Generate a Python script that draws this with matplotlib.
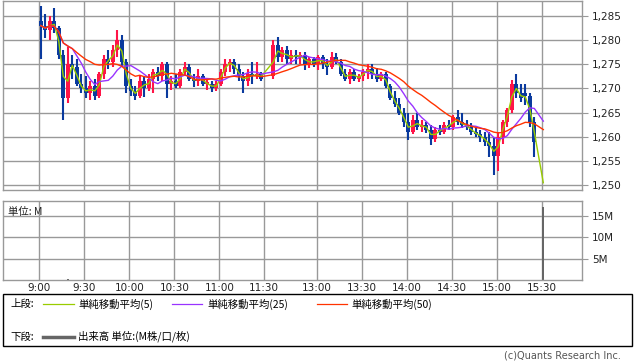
import numpy as np
import pandas as pd
import matplotlib
matplotlib.use('Agg')
import matplotlib.pyplot as plt
from matplotlib.lines import Line2D
from matplotlib.patches import Rectangle

# minutes on the chart axis (9:00 = 0, lunch break squeezed, 12:30 = 155)
t_min = np.r_[np.arange(0, 150, 3), np.arange(155, 330, 3), 335]

opens = [1284, 1283, 1282, 1284, 1282.5, 1277, 1268, 1275, 1274.5, 1271,
         1270, 1269, 1270.5, 1268.5, 1273, 1276, 1275.5, 1278, 1280, 1275.5,
         1270.5, 1269.5, 1268.5, 1271.5, 1270, 1272, 1273.5, 1272.5, 1275, 1271,
         1271.5, 1270.5, 1273.5, 1274.5, 1272, 1271.5, 1272.5, 1271, 1271, 1270,
         1271, 1273.5, 1275, 1275.5, 1274, 1272.5, 1271.5, 1273, 1272.5, 1273,
         1272.5, 1279, 1276.5, 1278, 1276, 1277, 1276.5, 1277, 1275, 1276,
         1275, 1276.5, 1275, 1274.5, 1276.5, 1275.5, 1273, 1272, 1273.5, 1272,
         1272.5, 1273.5, 1274, 1273, 1272, 1273, 1270.5, 1268, 1266.8, 1265,
         1263, 1261, 1263.5, 1262, 1262.5, 1261.5, 1259.5, 1261.5, 1261, 1262.5,
         1262, 1264, 1263, 1262.5, 1262, 1261, 1260.5, 1260, 1259, 1258,
         1256, 1260, 1263, 1265.5, 1271, 1269, 1269, 1268.5, 1263, 1242]
highs = [1287, 1285.5, 1285, 1286.6, 1283, 1278, 1278.5, 1277, 1276, 1273,
         1272.5, 1271.5, 1272, 1273.5, 1277, 1278, 1279, 1282, 1281, 1276,
         1272, 1270.5, 1272.5, 1272.5, 1273, 1274, 1274.5, 1275.5, 1275.5, 1272.5,
         1273, 1274, 1275.5, 1275, 1273, 1274, 1273, 1272, 1271.5, 1271.5,
         1274, 1276, 1276, 1276, 1275, 1273.5, 1274, 1275.5, 1275.5, 1273.5,
         1280, 1280.7, 1278.5, 1278.8, 1278, 1278, 1277.5, 1277.5, 1276.5, 1276.5,
         1277, 1277, 1276, 1277.5, 1277.3, 1276, 1274, 1274, 1274, 1273,
         1274, 1275, 1275, 1274.2, 1273.5, 1273.5, 1271, 1269.5, 1268, 1266,
         1265, 1264.5, 1265, 1263.5, 1263, 1262.5, 1262, 1262.5, 1263, 1263.5,
         1264.5, 1265.6, 1265, 1263.5, 1262.9, 1262, 1261.4, 1261, 1261, 1260,
         1261, 1263.5, 1266, 1271.8, 1273, 1271, 1271, 1269, 1264, 1242]
lows = [1276, 1280.5, 1280, 1281.5, 1276, 1263.5, 1267, 1272, 1270.5, 1269,
        1268, 1267.6, 1267.6, 1268, 1272, 1274, 1274.5, 1276.5, 1274.5, 1269,
        1268.5, 1267.6, 1268, 1268.3, 1269.5, 1269, 1271.5, 1271.5, 1268, 1269.7,
        1270, 1270, 1272.5, 1271.5, 1270.3, 1270.5, 1270.5, 1269.7, 1269.3, 1269.5,
        1270.5, 1272.5, 1273.5, 1273, 1271.5, 1269, 1270.5, 1271, 1272, 1271.5,
        1272, 1275.5, 1275.5, 1275, 1275, 1275, 1275, 1273.8, 1274.2, 1274.5,
        1273.8, 1274, 1272.8, 1274, 1275, 1272.5, 1271.5, 1271, 1271.5, 1271.4,
        1271.5, 1272, 1272, 1271.4, 1271.5, 1270, 1267.6, 1266.2, 1264.5, 1262,
        1259.3, 1260.5, 1261.5, 1261, 1260.8, 1258.3, 1259, 1260.4, 1260.5, 1261.4,
        1261.5, 1262.5, 1261.8, 1261.5, 1260.4, 1260, 1259, 1258, 1255.8, 1252,
        1253, 1258.5, 1262, 1265, 1268, 1267.2, 1266.5, 1262, 1255.9, 1242]
closes = [1283, 1282, 1284, 1282.5, 1277, 1268, 1275, 1274.5, 1271, 1270,
          1269, 1270.5, 1268.5, 1273, 1276, 1275.5, 1278, 1280, 1275.5, 1270.5,
          1269.5, 1268.5, 1271.5, 1270, 1272, 1273.5, 1272.5, 1275, 1271, 1271.5,
          1270.5, 1273.5, 1274.5, 1272, 1271.5, 1272.5, 1271, 1271, 1270, 1271,
          1273.5, 1275, 1275.5, 1274, 1272.5, 1271.5, 1273, 1272.5, 1273, 1272,
          1279, 1276.5, 1278, 1276, 1277, 1276.5, 1277, 1275, 1276, 1275,
          1276.5, 1275, 1274.5, 1276.5, 1275.5, 1273, 1272, 1273.5, 1272, 1272.5,
          1273.5, 1274, 1273, 1272, 1273, 1270.5, 1268, 1266.8, 1265, 1263,
          1261, 1263.5, 1262, 1262.5, 1261.5, 1259.5, 1261.5, 1261, 1262.5, 1262,
          1264, 1263, 1262.5, 1262, 1261, 1260.5, 1260, 1259, 1258, 1256,
          1260, 1263, 1265.5, 1271, 1269, 1268, 1268.5, 1263, 1259, 1242]
# volume in millions of shares
volume_m = [0.05, 0.05, 0.05, 0.04, 0.05, 0.06, 0.32, 0.06, 0.05, 0.05,
            0.05, 0.05, 0.05, 0.05, 0.05, 0.04, 0.05, 0.05, 0.05, 0.05,
            0.04, 0.04, 0.04, 0.03, 0.04, 0.04, 0.03, 0.04, 0.04, 0.03,
            0.03, 0.04, 0.04, 0.03, 0.03, 0.03, 0.03, 0.03, 0.03, 0.03,
            0.04, 0.04, 0.03, 0.03, 0.03, 0.03, 0.03, 0.03, 0.03, 0.04,
            0.06, 0.05, 0.05, 0.04, 0.04, 0.04, 0.03, 0.04, 0.03, 0.03,
            0.03, 0.03, 0.03, 0.04, 0.03, 0.03, 0.03, 0.03, 0.03, 0.03,
            0.03, 0.03, 0.03, 0.03, 0.03, 0.04, 0.05, 0.04, 0.04, 0.05,
            0.05, 0.04, 0.04, 0.03, 0.03, 0.04, 0.03, 0.03, 0.03, 0.03,
            0.04, 0.03, 0.03, 0.03, 0.03, 0.03, 0.03, 0.04, 0.05, 0.05,
            0.05, 0.05, 0.05, 0.05, 0.05, 0.05, 0.04, 0.05, 0.05, 17.1]

tick_pos = [0, 30, 60, 90, 120, 150, 185, 215, 245, 275, 305, 335]
tick_lbl = ['9:00', '9:30', '10:00', '10:30', '11:00', '11:30',
            '13:00', '13:30', '14:00', '14:30', '15:00', '15:30']
price_ticks = [1250, 1255, 1260, 1265, 1270, 1275, 1280, 1285]

# MA windows in 3-minute candles (about 5 / 25 / 50 one-minute bars)
ma_specs = [(2, '#99cc00', '単純移動平均(5)'),
            (8, '#9933ff', '単純移動平均(25)'),
            (17, '#ff3300', '単純移動平均(50)')]

UP, DOWN = '#ff1447', '#0a3a9e'
GRID = '#999999'
JP = ['Noto Sans CJK JP', 'DejaVu Sans']

W, H = 638, 362


def fx(px):
    return px / W


def fy(py):
    return 1 - py / H


def main():
    o = np.array(opens); h = np.array(highs); l = np.array(lows); c = np.array(closes)
    x = t_min + 1
    col = np.where(c >= o, UP, DOWN)

    fig = plt.figure(figsize=(W / 100, H / 100), dpi=100)
    ax = fig.add_axes([fx(3.3), fy(190), fx(579), 189 / H])
    axv = fig.add_axes([fx(3.3), fy(280), fx(579), 79 / H])

    for a in (ax, axv):
        a.set_xlim(-24, 362)
        a.set_xticks(tick_pos)
        a.grid(True, color=GRID, linewidth=1.0)
        a.set_axisbelow(True)
        for s in a.spines.values():
            s.set_color(GRID)
            s.set_linewidth(1.0)
        a.yaxis.tick_right()
        a.tick_params(axis='y', direction='out', length=4, color=GRID,
                      labelsize=7.5, labelcolor='#222222', pad=3)

    # candles
    ax.vlines(x, l, h, colors=col, linewidth=1.5, zorder=2)
    body = np.maximum(np.abs(c - o), 0.3)
    ax.bar(x, body, bottom=np.minimum(o, c), width=2.7, color=col,
           linewidth=0, zorder=2)

    s = pd.Series(c)
    for win, color, _ in ma_specs:
        ax.plot(x, s.rolling(win, min_periods=1).mean(), color=color,
                linewidth=1.0, zorder=3)

    ax.set_ylim(1249.0, 1288.1)
    ax.set_yticks(price_ticks)
    ax.set_yticklabels(['{:,}'.format(v) for v in price_ticks])
    ax.tick_params(axis='x', length=0, labelbottom=False)

    # volume
    axv.bar(x, np.array(volume_m) * 1e6, width=1.4, color='#666666',
            linewidth=0, zorder=2)
    axv.set_ylim(0, 18.4e6)
    axv.set_yticks([5e6, 10e6, 15e6])
    axv.set_yticklabels(['5M', '10M', '15M'])
    axv.set_xticklabels(tick_lbl)
    axv.tick_params(axis='x', length=0, labelsize=7.5, labelcolor='#222222', pad=2)
    axv.text(0.008, 0.93, '単位: M', transform=axv.transAxes, ha='left', va='top',
             fontsize=7.5, family=JP, color='#222222')

    # legend box
    fig.add_artist(Rectangle((fx(3.3), fy(346)), fx(632 - 3.3), (346 - 294.3) / H,
                             transform=fig.transFigure, fill=False,
                             edgecolor='black', linewidth=1.0))
    y1, y2 = fy(304), fy(336.5)
    fig.text(fx(10), y1, '上段:', fontsize=7.5, family=JP, va='center')
    for (x0, x1, xt), (_, color, lbl) in zip([(43, 74, 78), (172, 202, 207),
                                              (317, 347, 351)], ma_specs):
        fig.add_artist(Line2D([fx(x0), fx(x1)], [y1, y1], color=color,
                              linewidth=0.9, transform=fig.transFigure))
        fig.text(fx(xt), y1, lbl, fontsize=7.5, family=JP, va='center')
    fig.text(fx(10), y2, '下段:', fontsize=7.5, family=JP, va='center')
    fig.add_artist(Line2D([fx(43), fx(74)], [y2, y2], color='#666666',
                          linewidth=2.5, transform=fig.transFigure))
    fig.text(fx(78), y2, '出来高 単位:(M株/口/枚)', fontsize=7.5, family=JP,
             va='center')

    fig.text(fx(621), fy(356), '(c)Quants Research Inc.', fontsize=7,
             color='#555555', ha='right', va='center')

    fig.savefig('out.png', dpi=100)


if __name__ == "__main__":
    main()
